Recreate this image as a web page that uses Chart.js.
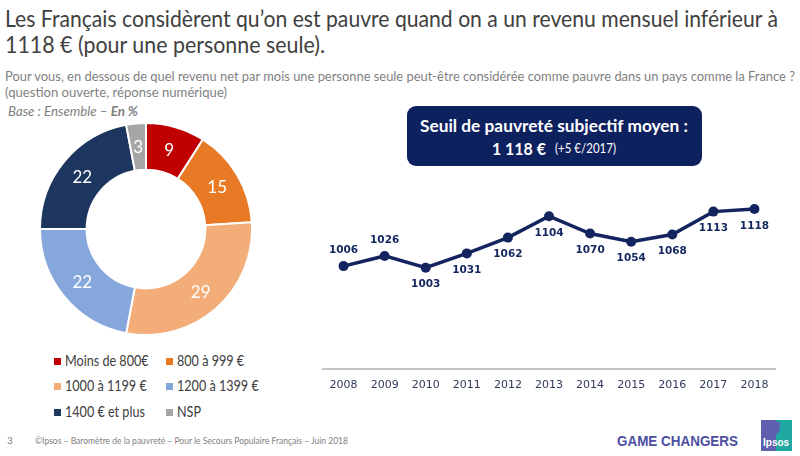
<!DOCTYPE html>
<html><head><meta charset="utf-8">
<script src="https://cdn.jsdelivr.net/npm/chart.js@4"></script>
<style>
body{margin:0;width:800px;height:456px;position:relative;background:#fff;overflow:hidden;font-family:Lato,"Open Sans",sans-serif;}
.t{position:absolute;white-space:nowrap;transform-origin:0 50%;line-height:1;}
canvas{position:absolute;}
.box{position:absolute;left:407px;top:106px;width:295px;height:60px;background:#0E215F;border-radius:9px;}
.lg{position:absolute;white-space:nowrap;font-size:15px;color:#404040;line-height:1;transform-origin:0 50%;}
.sq{position:absolute;width:7px;height:7px;}
</style></head><body>

<div class="t" id="t1" data-w="773" style="left:5px;top:6px;font-size:24px;color:#404040;">Les Français considèrent qu’on est pauvre quand on a un revenu mensuel inférieur à</div>
<div class="t" id="t2" data-w="320" style="left:5px;top:32px;font-size:24px;color:#404040;">1118 € (pour une personne seule).</div>
<div class="t" id="s1" data-w="790" style="left:5px;top:69px;font-size:14px;color:#7F7F7F;">Pour vous, en dessous de quel revenu net par mois une personne seule peut-être considérée comme pauvre dans un pays comme la France ?</div>
<div class="t" id="s2" data-w="222" style="left:5px;top:85px;font-size:14px;color:#7F7F7F;">(question ouverte, réponse numérique)</div>
<div class="t" id="b1" data-w="130" style="left:8px;top:106px;font-size:12.5px;color:#7F7F7F;font-style:italic;">Base : Ensemble – <b>En %</b></div>

<div class="box"></div>
<div class="t" id="k1" data-w="268" style="left:420px;top:117px;font-size:17px;font-weight:bold;color:#fff;">Seuil de pauvreté subjectif moyen :</div>
<div class="t" id="k2" data-w="54" style="left:492px;top:140px;font-size:17px;font-weight:bold;color:#fff;">1 118 €</div>
<div class="t" id="k3" data-w="61" style="left:555px;top:142px;font-size:13px;color:#fff;">(+5 €/2017)</div>

<canvas id="donut" width="214" height="214" style="left:39px;top:122px;"></canvas>
<div id="legend"></div>
<canvas id="line" width="472" height="229" style="left:313px;top:170px;"></canvas>

<div class="t" style="left:7px;top:435px;font-size:10px;color:#7F7F7F;">3</div>
<div class="t" id="f1" data-w="313" style="left:35px;top:435px;font-size:10px;color:#7F7F7F;">©Ipsos – Baromètre de la pauvreté – Pour le Secours Populaire Français – Juin 2018</div>
<div class="t" id="g1" data-w="121" style="left:617px;top:433px;font-size:15px;font-weight:bold;color:#4B4F9F;font-family:'Liberation Sans',Arial,sans-serif;">GAME CHANGERS</div>
<div style="position:absolute;left:761px;top:420px;width:31px;height:31px;background:linear-gradient(90deg,#5E60AE 0%,#5E60AE 50%,#1FA7A2 50%,#1FA7A2 100%);"></div>
<div style="position:absolute;left:766px;top:422px;width:14px;height:13px;background:#5E60AE;border-radius:0 0 7px 0;"></div>
<div class="t" style="left:763px;top:438px;font-size:10px;font-weight:bold;color:#fff;font-family:'Liberation Sans',Arial,sans-serif;">Ipsos</div>

<script>
// ---- data ----
const categories = ['Moins de 800€', '800 à 999 €', '1000 à 1199 €', '1200 à 1399 €', '1400 € et plus', 'NSP'];
const shares = [9, 15, 29, 22, 22, 3];
const sliceColors = ['#C00000', '#E87A25', '#F2AD78', '#85A7DC', '#1D3660', '#A6A6A6'];

const years = ['2008','2009','2010','2011','2012','2013','2014','2015','2016','2017','2018'];
const threshold = [1006, 1026, 1003, 1031, 1062, 1104, 1070, 1054, 1068, 1113, 1118];
const labelSide = ['top','top','bottom','bottom','bottom','bottom','bottom','bottom','bottom','bottom','bottom'];

// ---- text fitting ----
document.querySelectorAll('[data-w]').forEach(el => {
  const w = el.getBoundingClientRect().width;
  el.style.transform = 'scaleX(' + (parseFloat(el.dataset.w) / w) + ')';
});

// ---- legend (html, built from arrays) ----
const legend = document.getElementById('legend');
const colX = [54, 166];
const rowY = [361, 386, 412];
categories.forEach((c, i) => {
  const col = i % 2, row = Math.floor(i / 2);
  const sq = document.createElement('div');
  sq.className = 'sq';
  sq.style.left = colX[col] + 'px';
  sq.style.top = (rowY[row] - 3) + 'px';
  sq.style.background = sliceColors[i];
  legend.appendChild(sq);
  const tx = document.createElement('div');
  tx.className = 'lg';
  tx.textContent = c;
  tx.style.left = (colX[col] + 11) + 'px';
  tx.style.top = (rowY[row] - 8) + 'px';
  tx.style.transform = 'scaleX(0.84)';
  legend.appendChild(tx);
});

// ---- doughnut ----
const arcLabels = {
  id: 'arcLabels',
  afterDatasetsDraw(chart) {
    const ctx = chart.ctx;
    const meta = chart.getDatasetMeta(0);
    ctx.save();
    ctx.fillStyle = '#fff';
    ctx.font = '17px Lato, "Open Sans", sans-serif';
    ctx.textAlign = 'center';
    ctx.textBaseline = 'middle';
    meta.data.forEach((arc, i) => {
      const p = arc.tooltipPosition();
      ctx.fillText(String(chart.data.datasets[0].data[i]), p.x, p.y + 1);
    });
    ctx.restore();
  }
};
new Chart(document.getElementById('donut'), {
  type: 'doughnut',
  data: { labels: categories, datasets: [{ data: shares, backgroundColor: sliceColors, borderColor: '#fff', borderWidth: 2 }] },
  options: {
    responsive: false, animation: false, cutout: '56%',
    plugins: { legend: { display: false }, tooltip: { enabled: false } }
  },
  plugins: [arcLabels]
});

// ---- line ----
const pointLabels = {
  id: 'pointLabels',
  afterDatasetsDraw(chart) {
    const ctx = chart.ctx;
    const meta = chart.getDatasetMeta(0);
    ctx.save();
    ctx.fillStyle = '#14265F';
    ctx.font = 'bold 10.5px "DejaVu Sans", Verdana, sans-serif';
    ctx.textAlign = 'center';
    ctx.textBaseline = 'middle';
    meta.data.forEach((pt, i) => {
      const dy = labelSide[i] === 'top' ? -16 : 17;
      ctx.fillText(String(threshold[i]), pt.x, pt.y + dy);
    });
    ctx.restore();
  }
};
new Chart(document.getElementById('line'), {
  type: 'line',
  data: { labels: years, datasets: [{ data: threshold, borderColor: '#13245E', backgroundColor: '#13245E', borderWidth: 3.5, pointRadius: 5, pointBackgroundColor: '#13245E', pointBorderWidth: 0, tension: 0 }] },
  options: {
    responsive: false, animation: false,
    layout: { padding: { left: 10, right: 10, top: 8, bottom: 0 } },
    plugins: { legend: { display: false }, tooltip: { enabled: false } },
    scales: {
      x: {
        offset: true,
        grid: { display: false, drawTicks: false },
        border: { display: true, color: '#C4C4C4', width: 2 },
        ticks: { color: '#2E3A59', font: { family: '"DejaVu Sans", Verdana, sans-serif', size: 11 }, padding: 10, maxRotation: 0 },
        afterFit(scale) { scale.height = 30; }
      },
      y: { display: false, min: 804, max: 1179 }
    }
  },
  plugins: [pointLabels]
});
</script>
</body></html>
